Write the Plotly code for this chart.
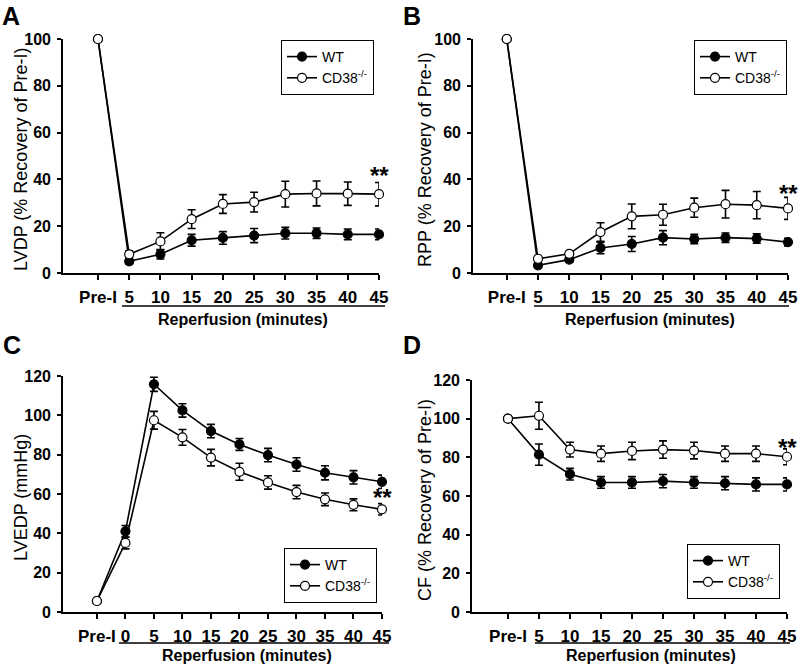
import plotly.graph_objects as go

# ---------------- data ----------------
cats_AB = ["Pre-I", "5", "10", "15", "20", "25", "30", "35", "40", "45"]
cats_C = ["Pre-I", "0", "5", "10", "15", "20", "25", "30", "35", "40", "45"]

lvdp_wt = [100, 5, 8, 14, 15, 16, 17, 17, 16.5, 16.5]
lvdp_wt_err = [0, 1, 2, 2.5, 2.7, 3, 2.5, 2.2, 2.3, 2.3]
lvdp_ko = [100, 8, 13.5, 23, 29.5, 30.3, 33.7, 34, 33.9, 33.7]
lvdp_ko_err = [0, 1.5, 3.7, 4, 4, 4.2, 5.5, 5.3, 5, 5]

rpp_wt = [100, 3.3, 5.7, 10.7, 12.4, 15.1, 14.5, 15.1, 14.7, 13.2]
rpp_wt_err = [0, 1, 1, 2.5, 3.2, 3, 2, 2, 2, 1.6]
rpp_ko = [100, 6.1, 8.2, 17.5, 24.2, 24.9, 27.9, 29.4, 29, 27.6]
rpp_ko_err = [0, 1, 1, 4, 5.3, 4.5, 4.1, 5.9, 5.8, 4.7]

lvedp_wt = [5.6, 41, 115.8, 102.5, 92, 85.2, 79.8, 75, 70.8, 68.5, 66.2]
lvedp_wt_err = [0, 3, 3.6, 3.4, 3.4, 3, 3.4, 3.4, 3.6, 3.4, 3.4]
lvedp_ko = [5.6, 35.1, 97.5, 88.8, 78.5, 71.3, 65.9, 61, 57.3, 54.5, 52.2]
lvedp_ko_err = [0, 3, 4.5, 4, 4.2, 4.3, 3.4, 3.4, 3.2, 3, 2.9]

cf_wt = [100, 81.4, 71.3, 67, 67, 67.7, 67, 66.6, 66, 66]
cf_wt_err = [0, 5.5, 3, 3, 3, 3.4, 3, 3.4, 3.4, 3.4]
cf_ko = [100, 101.5, 84, 81.9, 83.3, 84, 83.5, 81.9, 81.9, 80.3]
cf_ko_err = [0, 7, 3.8, 4, 4.5, 4.5, 4.3, 4, 4, 4.1]

series_names = ["WT", "CD38<sup>-/-</sup>"]
ytitles = ["LVDP (% Recovery of Pre-I)", "RPP (% Recovery of Pre-I)",
           "LVEDP (mmHg)", "CF (% Recovery of Pre-I)"]
panel_letters = ["A", "B", "C", "D"]
xlabel = "Reperfusion (minutes)"

# ---------------- layout helpers ----------------
W, H = 800, 664
def px(x):
    return x / W
def py(y):
    return 1 - y / H

FONT = "Liberation Sans, Arial, sans-serif"

panels = [
    dict(x0=63, x1=379, top=39, bot=273, xr=[-1.12, 9], yr=[0, 100], dt=20,
         cats=cats_AB, wt=lvdp_wt, wte=lvdp_wt_err, ko=lvdp_ko, koe=lvdp_ko_err,
         leg=dict(x=281, y=40), ul=(122, 385, 306), xl=(243, 319), letter=(11, 16),
         ytx=21, star=2.8),
    dict(x0=473, x1=788, top=39, bot=273, xr=[-1.08, 9], yr=[0, 100], dt=20,
         cats=cats_AB, wt=rpp_wt, wte=rpp_wt_err, ko=rpp_ko, koe=rpp_ko_err,
         leg=dict(x=694, y=40), ul=(534, 789, 306), xl=(650, 319), letter=(412, 16),
         ytx=425, star=1.5),
    dict(x0=63, x1=382, top=376, bot=612, xr=[-1.19, 10], yr=[0, 120], dt=20,
         cats=cats_C, wt=lvedp_wt, wte=lvedp_wt_err, ko=lvedp_ko, koe=lvedp_ko_err,
         leg=dict(x=284, y=548), ul=(119, 389, 643), xl=(247, 655), letter=(12, 345),
         ytx=21, star=2.9),
    dict(x0=472, x1=787, top=380, bot=612, xr=[-1.16, 9], yr=[0, 120], dt=20,
         cats=cats_AB, wt=cf_wt, wte=cf_wt_err, ko=cf_ko, koe=cf_ko_err,
         leg=dict(x=687, y=544), ul=(535, 790, 643), xl=(651, 655), letter=(412, 345),
         ytx=425, star=0.9),
]

fig = go.Figure()
annotations = []
shapes = []
layout_extra = {}

for i, p in enumerate(panels):
    n = "" if i == 0 else str(i + 1)
    xa, ya = "x" + n, "y" + n
    lg = "legend" + n
    fig.add_trace(go.Scatter(
        x=p["cats"], y=p["wt"], xaxis=xa, yaxis=ya, name=series_names[0],
        mode="lines+markers", legend=lg, cliponaxis=False,
        line=dict(color="black", width=1.6),
        marker=dict(symbol="circle", size=9, color="black",
                    line=dict(color="black", width=1.2)),
        error_y=dict(type="data", array=p["wte"], color="black",
                     thickness=1.6, width=4),
    ))
    fig.add_trace(go.Scatter(
        x=p["cats"], y=p["ko"], xaxis=xa, yaxis=ya, name=series_names[1],
        mode="lines+markers", legend=lg, cliponaxis=False,
        line=dict(color="black", width=1.6),
        marker=dict(symbol="circle", size=9, color="white",
                    line=dict(color="black", width=1.2)),
        error_y=dict(type="data", array=p["koe"], color="black",
                     thickness=1.6, width=4),
    ))

    layout_extra["xaxis" + n] = dict(
        domain=[px(p["x0"]), px(p["x1"])], anchor=ya, type="category",
        range=p["xr"], showline=True, linecolor="black", linewidth=1.6,
        ticks="outside", ticklen=5, tickwidth=1.6, tickcolor="black",
        showgrid=False, zeroline=False, ticklabelstandoff=3, automargin=False,
        tickfont=dict(family=FONT, size=17, color="black", weight="bold"),
    )
    layout_extra["yaxis" + n] = dict(
        domain=[py(p["bot"]), py(p["top"])], anchor=xa,
        range=p["yr"], dtick=p["dt"], tick0=0, showline=True,
        linecolor="black", linewidth=1.6, ticks="outside", ticklen=4,
        tickwidth=1.6, tickcolor="black", showgrid=False, zeroline=False,
        automargin=False, ticklabelstandoff=3,
        tickfont=dict(family=FONT, size=16, color="black", weight="bold"),
    )
    layout_extra[lg] = dict(
        x=px(p["leg"]["x"]), y=py(p["leg"]["y"]), xanchor="left", yanchor="top",
        bgcolor="white", bordercolor="black", borderwidth=1,
        font=dict(family=FONT, size=14, color="black"),
        itemwidth=30, tracegroupgap=0,
    )
    annotations.append(dict(
        text=ytitles[i], xref="paper", yref="paper",
        x=px(p["ytx"]), y=py((p["top"] + p["bot"]) / 2 + 4), textangle=-90,
        showarrow=False, font=dict(family=FONT, size=18, color="black"),
        xanchor="center", yanchor="middle",
    ))
    annotations.append(dict(
        text="<b>%s</b>" % panel_letters[i], xref="paper", yref="paper",
        x=px(p["letter"][0]), y=py(p["letter"][1]), showarrow=False,
        font=dict(family=FONT, size=25, color="black"),
        xanchor="center", yanchor="middle",
    ))
    annotations.append(dict(
        text="<b>%s</b>" % xlabel, xref="paper", yref="paper",
        x=px(p["xl"][0]), y=py(p["xl"][1]), showarrow=False,
        font=dict(family=FONT, size=16, color="black"),
        xanchor="center", yanchor="middle",
    ))
    shapes.append(dict(
        type="line", xref="paper", yref="paper",
        x0=px(p["ul"][0]), x1=px(p["ul"][1]),
        y0=py(p["ul"][2]), y1=py(p["ul"][2]),
        line=dict(color="black", width=1.5),
    ))
    last = len(p["cats"]) - 1
    xfrac = (last - p["xr"][0]) / (p["xr"][1] - p["xr"][0])
    xstar = px(p["x0"]) + xfrac * (px(p["x1"]) - px(p["x0"]))
    annotations.append(dict(
        text="<b>**</b>", xref="paper", yref=ya,
        x=xstar, y=p["ko"][-1] + p["koe"][-1] + p["star"],
        showarrow=False, font=dict(family=FONT, size=24, color="black"),
        xanchor="center", yanchor="middle",
    ))

fig.update_layout(
    template="none",
    width=W, height=H, margin=dict(l=0, r=0, t=0, b=0, autoexpand=False),
    plot_bgcolor="white", paper_bgcolor="white",
    font=dict(family=FONT, color="black"),
    annotations=annotations, shapes=shapes, showlegend=True,
    **layout_extra,
)

fig.write_html("out.html",
               config={"displayModeBar": False},
               post_script="document.body.style.margin='0';document.body.style.overflow='hidden';")
